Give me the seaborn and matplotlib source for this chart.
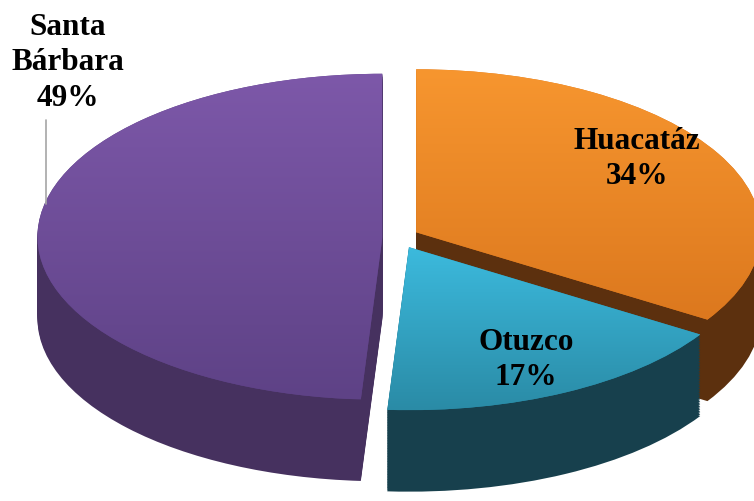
import numpy as np
import matplotlib
matplotlib.use("Agg")
import matplotlib.pyplot as plt
import seaborn as sns
from matplotlib.colors import LinearSegmentedColormap

# ---- data ----
labels = ["Huacatáz", "Otuzco", "Santa\nBárbara"]
values = [34, 17, 49]
percent_labels = ["34%", "17%", "49%"]

# ---- style ----
top_light = ["#F7962F", "#3CBADD", "#7D58A9"]
top_dark = ["#DC781E", "#2A8BA6", "#5E4286"]
side_colors = ["#5C300E", "#17404D", "#46315F"]
explode = [0.06, 0.07, 0.045]

sns.set_theme(style="white")
plt.rcParams['font.family'] = ['Liberation Serif', 'DejaVu Serif']

W, H = 754, 502
fig = plt.figure(figsize=(W / 100, H / 100), dpi=100)
ax = fig.add_axes([0, 0, 1, 1])

# pixel geometry of the ellipse
Cx, Cy, Rx, Ry = 398, 238, 345, 163
xmin, xmax = -Cx / Rx, (W - Cx) / Rx
ymin, ymax = (Cy - H) / Ry, Cy / Ry

depth = 0.5
n_layers = 50
common = dict(explode=explode, startangle=90, counterclock=False, frame=True)
for d in np.linspace(depth, 0, n_layers, endpoint=False):
    ax.pie(values, colors=side_colors, center=(0, -d),
           wedgeprops=dict(linewidth=0), **common)

wedges, _ = ax.pie(values, colors=top_dark, center=(0, 0),
                   wedgeprops=dict(linewidth=0), **common)

# gradient fill for top faces
grad = np.linspace(0, 1, 256).reshape(-1, 1)
for i, w in enumerate(wedges):
    bb = w.get_path().get_extents()
    cmap = LinearSegmentedColormap.from_list(f"g{i}", [top_light[i], top_dark[i]])
    im = ax.imshow(grad, cmap=cmap, aspect="auto",
                   extent=[bb.x0, bb.x1, bb.y0, bb.y1], zorder=w.get_zorder() + 0.5)
    im.set_clip_path(w)

ax.set_aspect("auto")
ax.set_xlim(xmin, xmax)
ax.set_ylim(ymin, ymax)
ax.axis("off")

# ---- labels ----
txt = dict(ha="center", va="center", fontsize=22.5, fontweight="bold",
           color="black", transform=ax.transAxes, linespacing=1.28, zorder=10)
label_pos = [(637 / W, 1 - 159 / H), (526 / W, 1 - 360 / H), (68 / W, 1 - 63 / H)]
for lab, pct, (px, py) in zip(labels, percent_labels, label_pos):
    ax.text(px, py, f"{lab}\n{pct}", **txt)

# leader line for Santa Bárbara
ax.plot([46 / W, 46 / W], [1 - 121 / H, 1 - 205 / H], color="#A6A6A6",
        lw=1.2, transform=ax.transAxes, zorder=9)

fig.savefig("out.png", dpi=100)
